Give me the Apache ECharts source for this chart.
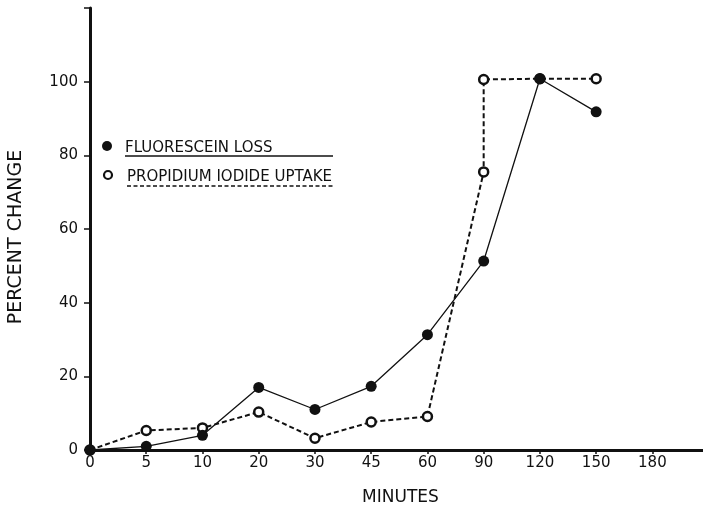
<!DOCTYPE html>
<html>
<head>
<meta charset="utf-8">
<script src="https://cdn.jsdelivr.net/npm/echarts@6/dist/echarts.min.js"></script>
<style>
  html, body { margin: 0; padding: 0; background: #fff; }
  #chart { width: 703px; height: 511px; }
</style>
</head>
<body>
<div id="chart"></div>
<script>
// Time points (minutes) are placed at evenly spaced tick positions
const xTickLabels = ['0', '5', '10', '20', '30', '45', '60', '90', '120', '150', '180'];
const yTickValues = [0, 20, 40, 60, 80, 100];

const fluoresceinMinutes = [0, 5, 10, 20, 30, 45, 60, 90, 120, 150];
const fluoresceinLoss = [0, 1, 4, 17, 11, 17.3, 31.3, 51.3, 100.8, 91.8];

const propidiumMinutes = [0, 5, 10, 20, 30, 45, 60, 90, 90, 120, 150];
const propidiumUptake = [0, 5.3, 6, 10.3, 3.2, 7.6, 9.1, 75.5, 100.6, 100.8, 100.8];

const FONT = 'DejaVu Sans';

// minutes -> position on the evenly spaced time axis
const pos = m => xTickLabels.indexOf(String(m));
const toPairs = (mins, vals) => mins.map((m, i) => [pos(m), vals[i]]);

const chart = echarts.init(document.getElementById('chart'), null, { renderer: 'canvas' });

chart.setOption({
  backgroundColor: '#fff',
  animation: false,
  grid: { left: 90, right: 0, top: 8, bottom: 59, containLabel: false },
  xAxis: [{
    type: 'value',
    min: 0,
    max: 10.9,
    interval: 1,
    name: 'MINUTES',
    nameLocation: 'middle',
    nameGap: 39,
    nameTextStyle: { fontFamily: FONT, fontSize: 17, color: '#111', padding: [0, 0, 0, 8] },
    axisLine: { show: true, onZero: false, lineStyle: { color: '#111', width: 3 } },
    axisTick: { show: true, length: 4, inside: false, lineStyle: { color: '#111', width: 1.5 } },
    axisLabel: {
      margin: 6,
      fontFamily: FONT,
      fontSize: 15,
      color: '#111',
      showMaxLabel: false,
      formatter: v => (Number.isInteger(v) && xTickLabels[v] !== undefined) ? xTickLabels[v] : ''
    },
    splitLine: { show: false }
  }, {
    // top frame line
    type: 'value',
    position: 'top',
    min: 0,
    max: 10.9,
    axisLine: { show: true, lineStyle: { color: '#111', width: 2 } },
    axisTick: { show: false },
    axisLabel: { show: false },
    splitLine: { show: false }
  }],
  yAxis: {
    type: 'value',
    min: 0,
    max: 120,
    interval: 20,
    axisLine: { show: true, lineStyle: { color: '#111', width: 3 } },
    axisTick: { show: true, length: 6, lineStyle: { color: '#111', width: 1.5 } },
    axisLabel: {
      margin: 12,
      fontFamily: FONT,
      fontSize: 15,
      color: '#111',
      formatter: v => yTickValues.includes(v) ? String(v) : ''
    },
    splitLine: { show: false }
  },
  series: [{
    name: 'PROPIDIUM IODIDE UPTAKE',
    type: 'line',
    data: toPairs(propidiumMinutes, propidiumUptake),
    symbol: 'circle',
    symbolSize: 9,
    lineStyle: { color: '#111', width: 2, type: [5, 3] },
    itemStyle: { color: '#fff', borderColor: '#111', borderWidth: 2.5 },
    z: 2
  }, {
    name: 'FLUORESCEIN LOSS',
    type: 'line',
    data: toPairs(fluoresceinMinutes, fluoresceinLoss),
    symbol: 'circle',
    symbolSize: 11,
    lineStyle: { color: '#111', width: 1.3 },
    itemStyle: { color: '#111', borderColor: '#111', borderWidth: 0 },
    z: 3
  }],
  graphic: [
    // y axis title
    {
      type: 'text',
      x: 16.5, y: 237,
      rotation: Math.PI / 2,
      style: {
        text: 'PERCENT CHANGE',
        fontFamily: FONT, fontSize: 19, fill: '#111',
        align: 'center', verticalAlign: 'middle'
      }
    },
    // key
    { type: 'circle', shape: { cx: 107, cy: 146, r: 5 }, style: { fill: '#111' } },
    {
      type: 'text', x: 125, y: 148.5,
      style: { text: 'FLUORESCEIN LOSS', fontFamily: FONT, fontSize: 15, fill: '#111', verticalAlign: 'middle' }
    },
    { type: 'line', shape: { x1: 125, y1: 156, x2: 333, y2: 156 }, style: { stroke: '#111', lineWidth: 1.3 } },
    { type: 'circle', shape: { cx: 108, cy: 175, r: 4 }, style: { fill: '#fff', stroke: '#111', lineWidth: 2.2 } },
    {
      type: 'text', x: 127, y: 177,
      style: { text: 'PROPIDIUM IODIDE UPTAKE', fontFamily: FONT, fontSize: 15, fill: '#111', verticalAlign: 'middle' }
    },
    { type: 'line', shape: { x1: 127, y1: 186, x2: 333, y2: 186 }, style: { stroke: '#111', lineWidth: 1.6, lineDash: [4, 2.5] } }
  ]
});
</script>
</body>
</html>
